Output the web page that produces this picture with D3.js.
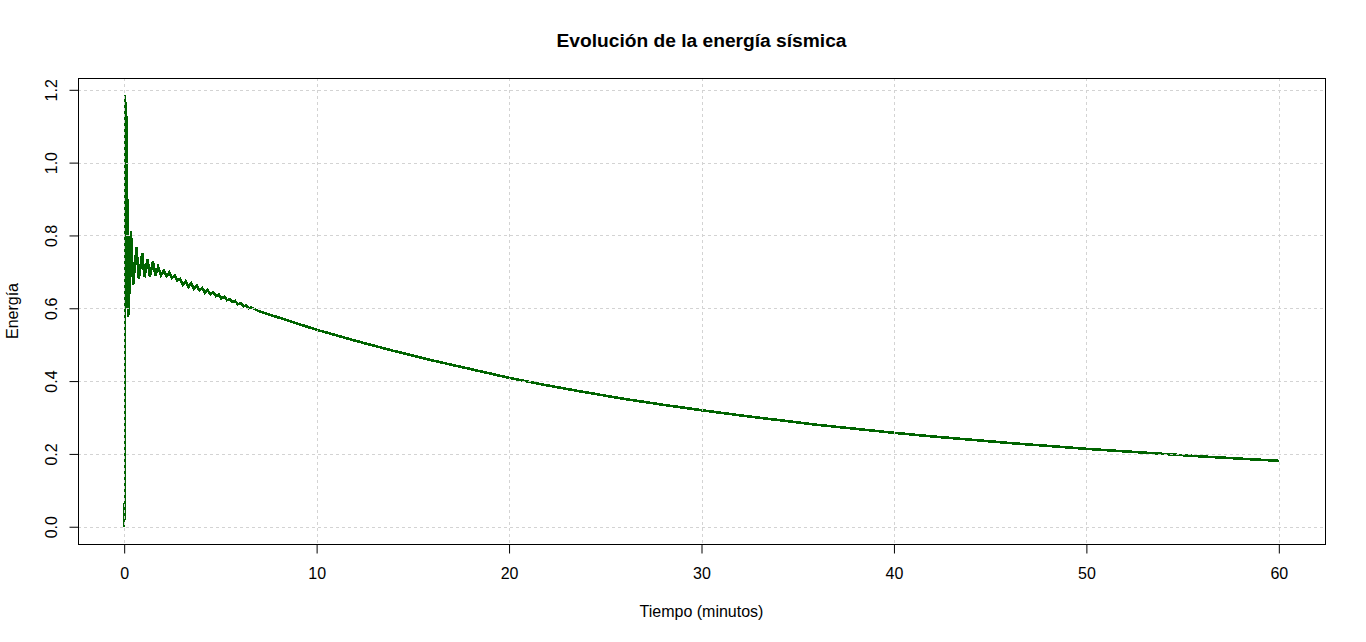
<!DOCTYPE html>
<html>
<head>
<meta charset="utf-8">
<script src="https://cdn.jsdelivr.net/npm/d3@7"></script>
<style>
    body { margin: 0; background: #fff; }
    svg { display: block; font-family: "Liberation Sans", Arial, sans-serif; }
    .grid line { stroke: #d3d3d3; stroke-width: 1; stroke-dasharray: 3,3; shape-rendering: crispEdges; }
    .tick line { stroke: #000; }
</style>
</head>
<body>
<svg width="1366" height="642"></svg>
<script>
// time in minutes
const tiempo = [
    0.000, 0.005, 0.042, 0.052, 0.078, 0.104, 0.130, 0.156, 0.208, 0.260, 0.301,
    0.348, 0.468, 0.639, 0.764, 0.935, 1.055, 1.210, 1.340, 1.491, 1.626, 1.766,
    1.912, 2.062, 2.197, 2.338, 2.483, 2.623, 2.764, 2.909,
    3.05, 3.19, 3.34, 3.48, 3.62, 3.77, 3.91, 4.05, 4.19, 4.34, 4.48, 4.62, 4.77,
    4.91, 5.05, 5.20, 5.34, 5.48, 5.62, 5.77, 5.91, 6.05, 6.20, 6.34, 6.48, 6.62,
    7, 8, 9, 10, 11, 12, 13, 14, 15, 16, 17, 18, 19, 20,
    22, 24, 26, 28, 30, 32, 34, 36, 38, 40, 42, 44, 46, 48, 50, 52, 54, 56, 58, 60
];
// seismic energy
const energia = [
    0.000, 0.062, 0.065, 1.185, 0.600, 1.146, 0.620, 0.905, 0.575, 0.790, 0.640,
    0.813, 0.665, 0.768, 0.681, 0.751, 0.685, 0.735, 0.687, 0.729, 0.690, 0.714,
    0.690, 0.703, 0.688, 0.698, 0.684, 0.690, 0.676, 0.681,
    0.665, 0.674, 0.659, 0.668, 0.654, 0.662, 0.649, 0.656, 0.643, 0.650, 0.638, 0.644, 0.633,
    0.638, 0.627, 0.632, 0.622, 0.625, 0.617, 0.620, 0.611, 0.614, 0.605, 0.608, 0.600, 0.602,
    0.592, 0.575, 0.558, 0.541, 0.526, 0.511, 0.497, 0.483, 0.470, 0.457, 0.445, 0.433, 0.421, 0.409,
    0.388, 0.369, 0.351, 0.335, 0.320, 0.306, 0.293, 0.280, 0.269, 0.258, 0.248, 0.239, 0.230, 0.222,
    0.214, 0.207, 0.200, 0.193, 0.187, 0.181
];
const xTicks = [0, 10, 20, 30, 40, 50, 60];
const yTicks = [0, 0.2, 0.4, 0.6, 0.8, 1.0, 1.2];

const svg = d3.select("svg");
const margin = { left: 78, right: 1325, top: 78, bottom: 544 };

// R style 4% padding on both axes
const xExt = d3.extent(tiempo), yExt = d3.extent(energia);
const xPad = (xExt[1] - xExt[0]) * 0.04, yPad = (yExt[1] - yExt[0]) * 0.04;
const x = d3.scaleLinear().domain([xExt[0] - xPad, xExt[1] + xPad]).range([margin.left, margin.right]);
const y = d3.scaleLinear().domain([yExt[0] - yPad, yExt[1] + yPad]).range([margin.bottom, margin.top]);

const data = tiempo.map((t, i) => ({ t: t, e: energia[i] }));

//the series line
svg.append("path")
    .datum(data)
    .attr("fill", "none")
    .attr("stroke", "#006400")
    .attr("stroke-width", 2.6)
    .attr("stroke-linejoin", "miter")
    .attr("shape-rendering", "crispEdges")
    .attr("d", d3.line().x(d => x(d.t)).y(d => y(d.e)));

//grid drawn over the line like grid() after plot()
let grid = svg.append("g").attr("class", "grid");
grid.selectAll(".gx").data(xTicks).join("line")
    .attr("x1", d => Math.round(x(d)) + 0.5).attr("x2", d => Math.round(x(d)) + 0.5)
    .attr("y1", margin.top).attr("y2", margin.bottom);
grid.selectAll(".gy").data(yTicks).join("line")
    .attr("class", "gy")
    .attr("y1", d => Math.round(y(d)) + 0.5).attr("y2", d => Math.round(y(d)) + 0.5)
    .attr("x1", margin.left).attr("x2", margin.right);

//box
svg.append("rect")
    .attr("x", margin.left + 0.5).attr("y", margin.top + 0.5)
    .attr("width", margin.right - margin.left).attr("height", margin.bottom - margin.top)
    .attr("fill", "none").attr("stroke", "#000").attr("stroke-width", 1);

//axes
let xAxis = svg.append("g")
    .attr("transform", "translate(0," + (margin.bottom + 0.5) + ")")
    .call(d3.axisBottom(x).tickValues(xTicks).tickSize(9).tickPadding(14).tickFormat(d3.format("d")));
xAxis.select(".domain").remove();
xAxis.selectAll("text").attr("font-size", 16).attr("fill", "#000").attr("font-family", "Liberation Sans, Arial, sans-serif");

let yAxis = svg.append("g")
    .attr("transform", "translate(" + (margin.left + 0.5) + ",0)")
    .call(d3.axisLeft(y).tickValues(yTicks).tickSize(9).tickFormat(d3.format(".1f")));
yAxis.select(".domain").remove();
yAxis.selectAll("text")
    .attr("font-size", 16).attr("fill", "#000")
    .attr("font-family", "Liberation Sans, Arial, sans-serif")
    .attr("x", null).attr("dy", null)
    .attr("text-anchor", "middle")
    .attr("transform", "translate(-21.5,0) rotate(-90)");

//titles
svg.append("text")
    .attr("x", (margin.left + margin.right) / 2).attr("y", 47)
    .attr("text-anchor", "middle").attr("font-size", 19.2).attr("font-weight", "bold")
    .text("Evolución de la energía sísmica");

svg.append("text")
    .attr("x", (margin.left + margin.right) / 2).attr("y", 617)
    .attr("text-anchor", "middle").attr("font-size", 16)
    .text("Tiempo (minutos)");

svg.append("text")
    .attr("transform", "translate(18," + ((margin.top + margin.bottom) / 2) + ") rotate(-90)")
    .attr("text-anchor", "middle").attr("font-size", 16)
    .text("Energía");
</script>
</body>
</html>
